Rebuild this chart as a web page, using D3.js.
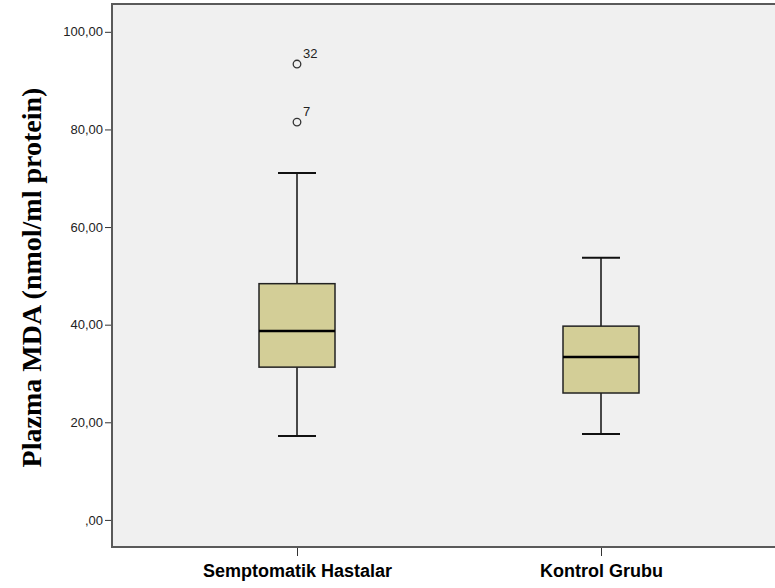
<!DOCTYPE html>
<html>
<head>
<meta charset="utf-8">
<script src="https://cdn.jsdelivr.net/npm/d3@7"></script>
<style>
  body { margin: 0; background: #fff; }
  svg { display: block; }
</style>
</head>
<body>
<div id="chart"></div>
<script>
// data
const groups = ['Semptomatik Hastalar', 'Kontrol Grubu'];
const whiskerLow = [17.2, 17.6];
const q1 = [31.3, 26.0];
const median = [38.7, 33.4];
const q3 = [48.4, 39.7];
const whiskerHigh = [71.1, 53.7];
const outlierGroup = ['Semptomatik Hastalar', 'Semptomatik Hastalar'];
const outlierValue = [93.4, 81.5];
const outlierLabel = ['32', '7'];
const yTicks = [0, 20, 40, 60, 80, 100];

const width = 775, height = 588;
const plotLeft = 112, plotTop = 4, plotBottom = 547, plotRight = 905;

const svg = d3.select('#chart')
  .append('svg')
  .attr('width', width)
  .attr('height', height);

const y = d3.scaleLinear()
  .domain([-5.55, 105.7])
  .range([plotBottom, plotTop]);

const x = d3.scalePoint()
  .domain(groups)
  .range([297, 601]);

const boxW = 76, capW = 38;

// plot background + frame
svg.append('rect')
  .attr('x', plotLeft).attr('y', plotTop)
  .attr('width', plotRight - plotLeft).attr('height', plotBottom - plotTop)
  .attr('fill', '#f0f0f0')
  .attr('stroke', '#5a5a5a')
  .attr('stroke-width', 2);

// y axis
const yAxis = d3.axisLeft(y)
  .tickValues(yTicks)
  .tickSize(6)
  .tickFormat(d => d === 0 ? ',00' : d.toFixed(2).replace('.', ','));

const gy = svg.append('g')
  .attr('transform', `translate(${plotLeft - 1},0)`)
  .call(yAxis);
gy.select('.domain').remove();
gy.selectAll('.tick line').attr('stroke', '#333');
gy.selectAll('.tick text')
  .attr('x', -8)
  .attr('fill', '#222')
  .style('font-family', 'Arial, "Liberation Sans", sans-serif')
  .style('font-size', '13px');

// x axis
const xAxis = d3.axisBottom(x).tickSize(8).tickPadding(8);
const gx = svg.append('g')
  .attr('transform', `translate(0,${plotBottom + 1})`)
  .call(xAxis);
gx.select('.domain').remove();
gx.selectAll('.tick line').attr('stroke', '#333');
gx.selectAll('.tick text')
  .attr('fill', '#000')
  .style('font-family', 'Arial, "Liberation Sans", sans-serif')
  .style('font-size', '18px')
  .style('font-weight', 'bold');

// y title
svg.append('text')
  .attr('transform', `translate(41,${(plotTop + plotBottom) / 2 + 2}) rotate(-90)`)
  .attr('text-anchor', 'middle')
  .style('font-family', '"Liberation Serif", "Times New Roman", serif')
  .style('font-size', '28px')
  .style('font-weight', 'bold')
  .text('Plazma MDA (nmol/ml protein)');

// boxes
const boxes = groups.map((g, i) => ({
  g, lo: whiskerLow[i], q1: q1[i], med: median[i], q3: q3[i], hi: whiskerHigh[i]
}));

const bg = svg.append('g').selectAll('g').data(boxes).join('g');

// whiskers
bg.append('line')
  .attr('x1', d => x(d.g)).attr('x2', d => x(d.g))
  .attr('y1', d => y(d.hi)).attr('y2', d => y(d.q3))
  .attr('stroke', '#111').attr('stroke-width', 1.5);
bg.append('line')
  .attr('x1', d => x(d.g)).attr('x2', d => x(d.g))
  .attr('y1', d => y(d.q1)).attr('y2', d => y(d.lo))
  .attr('stroke', '#111').attr('stroke-width', 1.5);
bg.append('line')
  .attr('x1', d => x(d.g) - capW / 2).attr('x2', d => x(d.g) + capW / 2)
  .attr('y1', d => y(d.hi)).attr('y2', d => y(d.hi))
  .attr('stroke', '#111').attr('stroke-width', 2);
bg.append('line')
  .attr('x1', d => x(d.g) - capW / 2).attr('x2', d => x(d.g) + capW / 2)
  .attr('y1', d => y(d.lo)).attr('y2', d => y(d.lo))
  .attr('stroke', '#111').attr('stroke-width', 2);

// box
bg.append('rect')
  .attr('x', d => x(d.g) - boxW / 2)
  .attr('width', boxW)
  .attr('y', d => y(d.q3))
  .attr('height', d => y(d.q1) - y(d.q3))
  .attr('fill', '#d3ce97')
  .attr('stroke', '#222')
  .attr('stroke-width', 1.5);

// median
bg.append('line')
  .attr('x1', d => x(d.g) - boxW / 2).attr('x2', d => x(d.g) + boxW / 2)
  .attr('y1', d => y(d.med)).attr('y2', d => y(d.med))
  .attr('stroke', '#000').attr('stroke-width', 2.5);

// outliers
const outs = outlierValue.map((v, i) => ({ g: outlierGroup[i], v, label: outlierLabel[i] }));
const og = svg.append('g').selectAll('g').data(outs).join('g');
og.append('circle')
  .attr('cx', d => x(d.g))
  .attr('cy', d => y(d.v))
  .attr('r', 3.8)
  .attr('fill', 'none')
  .attr('stroke', '#333')
  .attr('stroke-width', 1.3);
og.append('text')
  .attr('x', d => x(d.g) + 6)
  .attr('y', d => y(d.v) - 6)
  .attr('fill', '#222')
  .style('font-family', 'Arial, "Liberation Sans", sans-serif')
  .style('font-size', '13px')
  .text(d => d.label);
</script>
</body>
</html>
